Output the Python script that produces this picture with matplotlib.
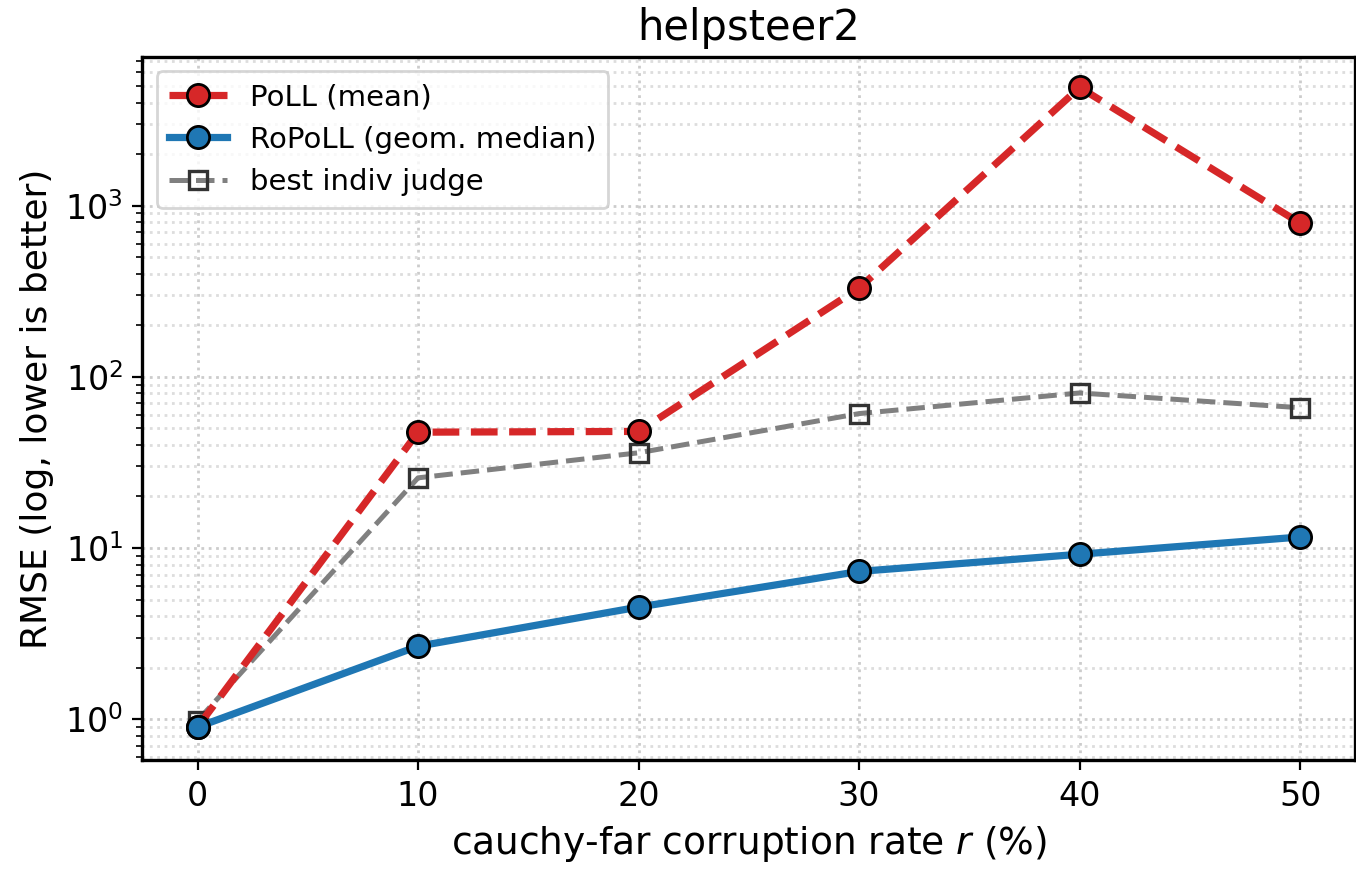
import matplotlib
matplotlib.use("Agg")
import matplotlib.pyplot as plt
import numpy as np

# corruption rates (%)
rates = [0, 10, 20, 30, 40, 50]

# RMSE values
poll_mean = [0.90, 47.5, 48.0, 330, 4900, 790]
ropoll_gm = [0.90, 2.67, 4.52, 7.3, 9.2, 11.6]
best_judge = [0.98, 25.7, 36.0, 61.0, 80.5, 66.0]

fig, ax = plt.subplots(figsize=(6.78, 4.37), dpi=200)
fig.subplots_adjust(left=0.105, right=0.9995, top=0.935, bottom=0.13)

ax.plot(rates, poll_mean, color='#d62728', linestyle='--', linewidth=2.6,
        marker='o', markersize=8, markerfacecolor='#d62728',
        markeredgecolor='black', markeredgewidth=1.0, label='PoLL (mean)', zorder=3)
ax.plot(rates, ropoll_gm, color='#1f77b4', linestyle='-', linewidth=2.6,
        marker='o', markersize=8, markerfacecolor='#1f77b4',
        markeredgecolor='black', markeredgewidth=1.0, label='RoPoLL (geom. median)', zorder=4)
ax.plot(rates, best_judge, color='gray', linestyle='--', linewidth=1.8,
        marker='s', markersize=6.5, markerfacecolor='none',
        markeredgecolor='#333333', markeredgewidth=1.2, label='best indiv judge', zorder=2)

ax.set_yscale('log')
ax.set_ylim(0.575, 7400)
ax.set_xlim(-2.5, 52.5)
ax.set_xticks(rates)

ax.grid(True, which='major', linestyle=':', color='#cccccc', linewidth=1.0)
ax.grid(True, which='minor', linestyle=':', color='#dddddd', linewidth=1.0)

for s in ax.spines.values():
    s.set_linewidth(1.2)

ax.set_xlabel('cauchy-far corruption rate $r$ (%)', fontsize=13.5)
ax.set_ylabel('RMSE (log, lower is better)', fontsize=13)
ax.set_title('helpsteer2', fontsize=15)
ax.tick_params(labelsize=12)
ax.legend(loc='upper left', fontsize=10.5)

fig.savefig('out.png', dpi=200)
